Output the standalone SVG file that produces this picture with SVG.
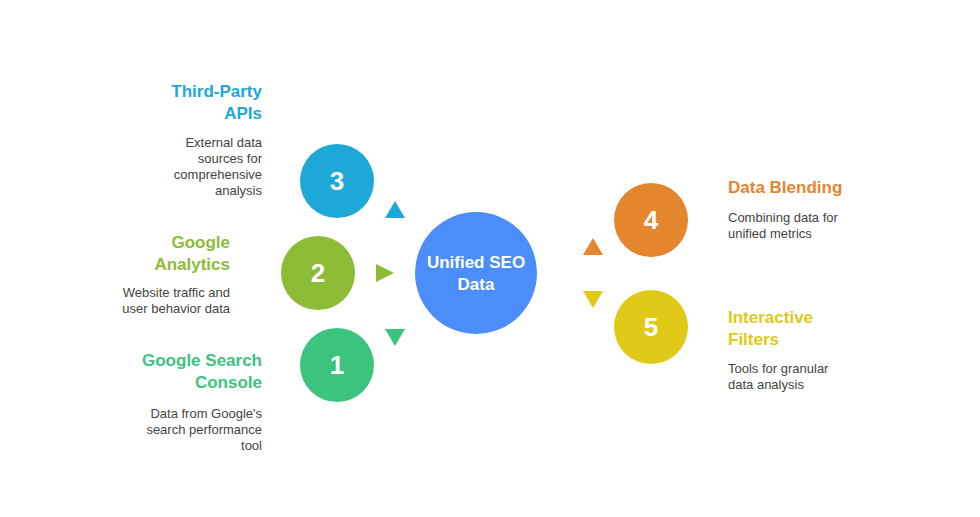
<svg xmlns="http://www.w3.org/2000/svg" width="980" height="517" viewBox="0 0 980 517">
<style>
.num{font-family:"Liberation Sans",Arial,sans-serif;font-size:26px;font-weight:bold;fill:#fff;text-anchor:middle}
.t{font-family:"Liberation Sans",Arial,sans-serif;font-size:17px;font-weight:bold}
.d{font-family:"Liberation Sans",Arial,sans-serif;font-size:13px;fill:#444}
.r{text-anchor:end}
</style>
<rect width="980" height="517" fill="#fff"/>
<g id="connectors">
<polygon points="395,201 405,218 385,218" fill="#1ea8d8"/>
<polygon points="376,264 394,273 376,282" fill="#8cbb36"/>
<polygon points="385,329 405,329 395,346" fill="#3cc47f"/>
<polygon points="593,238 603,255 583,255" fill="#e3862e"/>
<polygon points="583,291 603,291 593,308" fill="#e0c917"/>
</g>
<g id="center"><circle cx="476" cy="273" r="61" fill="#4b8ef9"/>
<text class="t" x="476" y="268" fill="#fff" text-anchor="middle">Unified SEO</text>
<text class="t" x="476" y="290" fill="#fff" text-anchor="middle">Data</text></g>
<g id="n3"><circle cx="337" cy="181" r="37" fill="#1ea8d8"/><text class="num" x="337" y="190">3</text>
<text class="t r" x="262" y="97" fill="#1ea8d8">Third-Party</text><text class="t r" x="262" y="119" fill="#1ea8d8">APIs</text>
<text class="d r" x="262" y="147">External data</text><text class="d r" x="262" y="163">sources for</text><text class="d r" x="262" y="179">comprehensive</text><text class="d r" x="262" y="195">analysis</text></g>
<g id="n2"><circle cx="318" cy="273" r="37" fill="#8cbb36"/><text class="num" x="318" y="282">2</text>
<text class="t r" x="230" y="248" fill="#8cbb36">Google</text><text class="t r" x="230" y="270" fill="#8cbb36">Analytics</text>
<text class="d r" x="230" y="297">Website traffic and</text><text class="d r" x="230" y="313">user behavior data</text></g>
<g id="n1"><circle cx="337" cy="365" r="37" fill="#3cc47f"/><text class="num" x="337" y="374">1</text>
<text class="t r" x="262" y="366" fill="#3cc47f">Google Search</text><text class="t r" x="262" y="388" fill="#3cc47f">Console</text>
<text class="d r" x="262" y="418">Data from Google's</text><text class="d r" x="262" y="434">search performance</text><text class="d r" x="262" y="450">tool</text></g>
<g id="n4"><circle cx="651" cy="220" r="37" fill="#e3862e"/><text class="num" x="651" y="229">4</text>
<text class="t" x="728" y="193" fill="#e3862e">Data Blending</text>
<text class="d" x="728" y="222">Combining data for</text><text class="d" x="728" y="238">unified metrics</text></g>
<g id="n5"><circle cx="651" cy="327" r="37" fill="#e0c917"/><text class="num" x="651" y="336">5</text>
<text class="t" x="728" y="323" fill="#e0c917">Interactive</text><text class="t" x="728" y="345" fill="#e0c917">Filters</text>
<text class="d" x="728" y="373">Tools for granular</text><text class="d" x="728" y="389">data analysis</text></g>
</svg>
